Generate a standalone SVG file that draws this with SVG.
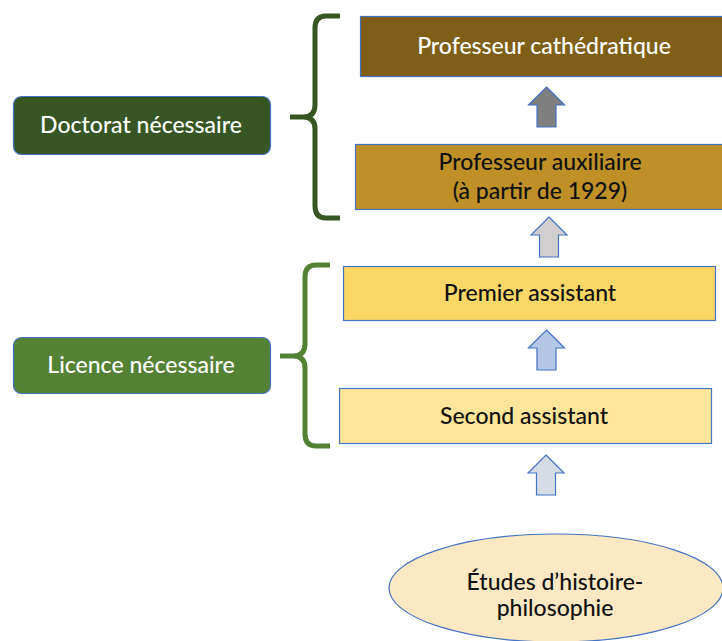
<svg xmlns="http://www.w3.org/2000/svg" width="722" height="641" viewBox="0 0 722 641">
<style>
.box{stroke:#4472C4;stroke-width:1.2}
.arr{stroke:#4472C4;stroke-width:1.2;stroke-linejoin:miter}
.brace{fill:none;stroke-width:5}
text{font-family:Lato,"Open Sans","Liberation Sans",sans-serif;font-size:23px;font-weight:500;text-anchor:middle}
.w{fill:#ffffff}
.k{fill:#111111}
</style>
<defs>
<path id="uparrow" d="M0,0 L18,18 L9.5,18 L9.5,40 L-9.5,40 L-9.5,18 L-18,18 Z"/>
</defs>
<rect width="722" height="641" fill="#ffffff"/>
<g id="connectors">
<use href="#uparrow" class="arr" x="546.5" y="87" fill="#7F7F7F"/>
<use href="#uparrow" class="arr" x="549" y="217" fill="#D0CECE"/>
<use href="#uparrow" class="arr" x="546.5" y="330" fill="#B4C7E7"/>
<use href="#uparrow" class="arr" x="546" y="455" fill="#D6DCE5"/>
<path class="brace" stroke="#375623" d="M340,16 L326,16 Q315,16 315,28 L315,105 Q315,117 303,117 L290,117 M303,117 Q315,117 315,129 L315,206 Q315,218 326,218 L340,218"/>
<path class="brace" stroke="#548235" d="M330,265 L316,265 Q305,265 305,277 L305,344 Q305,356 293,356 L280,356 M293,356 Q305,356 305,368 L305,434 Q305,446 316,446 L330,446"/>
</g>
<g id="prof-cathedratique">
<rect class="box" x="360.5" y="16.5" width="366" height="60" fill="#7F5F17"/>
<text class="w" x="544" y="54">Professeur cathédratique</text>
</g>
<g id="prof-auxiliaire">
<rect class="box" x="355.5" y="144.5" width="371" height="65" fill="#BF9027"/>
<text class="k" x="540" y="170">Professeur auxiliaire</text>
<text class="k" x="540" y="199">(à partir de 1929)</text>
</g>
<g id="premier-assistant">
<rect class="box" x="343.5" y="266.5" width="372" height="54" fill="#FAD766"/>
<text class="k" x="530" y="301">Premier assistant</text>
</g>
<g id="second-assistant">
<rect class="box" x="339.5" y="388.5" width="372" height="55" fill="#FEE599"/>
<text class="k" x="524" y="424">Second assistant</text>
</g>
<g id="etudes">
<ellipse class="box" cx="556" cy="588" rx="167" ry="54" fill="#FCE9C4"/>
<text class="k" x="555" y="590">Études d’histoire-</text>
<text class="k" x="555" y="616">philosophie</text>
</g>
<g id="doctorat">
<rect class="box" x="13.5" y="96.5" width="257" height="58" rx="8" fill="#375623"/>
<text class="w" x="141" y="133">Doctorat nécessaire</text>
</g>
<g id="licence">
<rect class="box" x="13.5" y="337.5" width="257" height="56" rx="8" fill="#548235"/>
<text class="w" x="141" y="373">Licence nécessaire</text>
</g>
</svg>
